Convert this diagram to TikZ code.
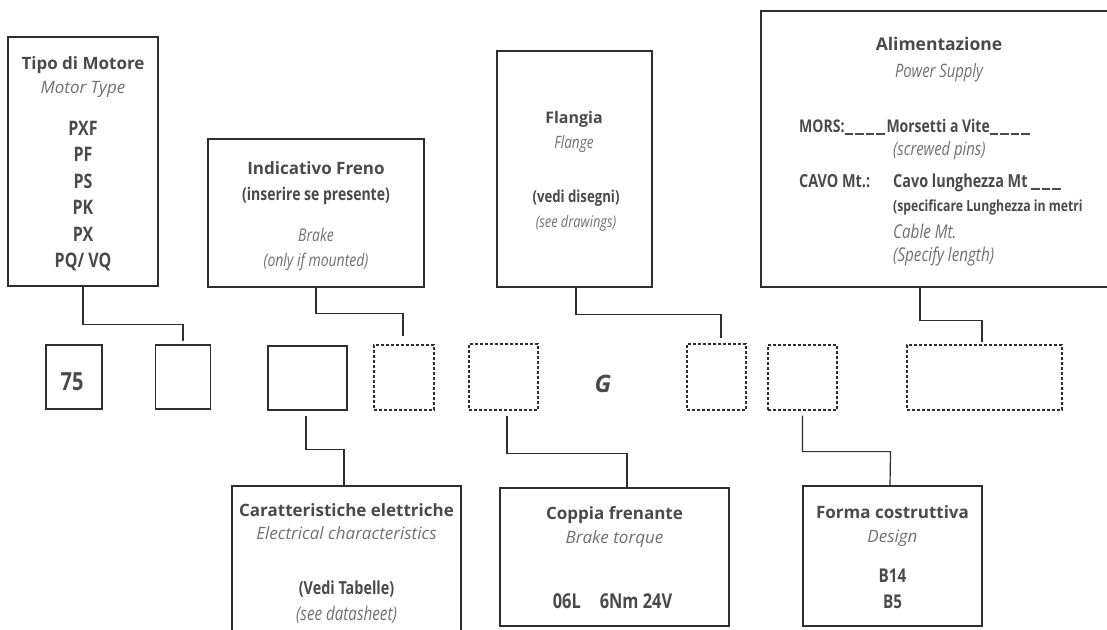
\documentclass[tikz,border=0pt]{standalone}
\usepackage{fontspec}
\setmainfont{Open Sans}
\newfontfamily\condf[FakeStretch=0.8]{Open Sans}
\definecolor{linec}{HTML}{2E2E2E}
\definecolor{txt}{HTML}{4A4A4A}
\definecolor{txti}{HTML}{707070}
\newcommand\usc{\rule[-2.5pt]{8.5pt}{1.1pt}\hspace{2pt}}
\newcommand\fs[1]{\fontsize{#1}{#1}\selectfont}
\tikzset{
  box/.style={draw=linec, line width=1.2pt, inner sep=0pt, rectangle, fill=white},
  dbox/.style={box, dash pattern=on 3pt off 2pt},
  conn/.style={draw=linec, line width=1.2pt},
  tb/.style={font=\fs{17}\bfseries, text=txt, anchor=base, inner sep=0pt},
  ti/.style={font=\fs{17}\itshape, text=txti, anchor=base, inner sep=0pt},
  cb/.style={font=\condf\fs{#1}\bfseries, text=txt, anchor=base, inner sep=0pt},
  ci/.style={font=\condf\fs{#1}\itshape, text=txti, anchor=base, inner sep=0pt},
}
\begin{document}
\begin{tikzpicture}[x=1pt,y=-1pt]
\useasboundingbox (0,0) rectangle (1107,629);
% top boxes
\node[box, minimum width=150pt, minimum height=249pt] (tipo) at (83,161.5) {};
\node[box, minimum width=216pt, minimum height=148pt] (freno) at (316,213) {};
\node[box, minimum width=155pt, minimum height=236pt] (flangia) at (574.5,169) {};
\node[box, minimum width=351pt, minimum height=276pt] (alim) at (936.5,149) {};
% code boxes
\node[box, minimum width=56pt, minimum height=64pt] (b75) at (74,377) {};
\node[box, minimum width=55pt, minimum height=64pt] (b2) at (183,377) {};
\node[box, minimum width=79pt, minimum height=64pt] (b3) at (307.5,378) {};
\node[dbox, minimum width=60pt, minimum height=65pt] (b4) at (404,377.5) {};
\node[dbox, minimum width=69pt, minimum height=66pt] (b5) at (503.5,377) {};
\node[dbox, minimum width=59pt, minimum height=66pt] (b6) at (716.5,377) {};
\node[dbox, minimum width=69pt, minimum height=65pt] (b7) at (802.5,377.5) {};
\node[dbox, minimum width=155pt, minimum height=65pt] (b8) at (984.5,377.5) {};
% bottom boxes
\node[box, minimum width=229pt, minimum height=159pt] (caratt) at (346.5,565.5) {};
\node[box, minimum width=229pt, minimum height=138pt] (coppia) at (614.5,557) {};
\node[box, minimum width=179pt, minimum height=140pt] (forma) at (892.5,556) {};
% connectors
\draw[conn] (tipo.south) -- ++(0,38) -| ([yshift=3pt]b2.north);
\draw[conn] (freno.south) -- ++(0,26) -| ([xshift=-1pt,yshift=8pt]b4.north);
\draw[conn] ([xshift=1.5pt]flangia.south) -- ++(0,27) -| ([xshift=4.5pt,yshift=5pt]b6.north);
\draw[conn] ([xshift=-16.5pt]alim.south) -- ++(0,33) -| ([xshift=-2.5pt,yshift=2pt]b8.north);
\draw[conn] ([xshift=-1.5pt,yshift=-5pt]b3.south) |- ++(38,34) -- ([xshift=-2.5pt]caratt.north);
\draw[conn] ([xshift=3.5pt,yshift=-5pt]b5.south) |- ++(120,38) -- ([xshift=12.5pt]coppia.north);
\draw[conn] ([yshift=-5pt]b7.south) |- ++(88,36) -- ([xshift=-2.5pt]forma.north);
% tipo texts
\node[tb] (t1) at (83,69) {Tipo di Motore};
\node[ti] (t2) at (83,93) {Motor Type};
\node[cb=20] (t3) at (83,135) {PXF};
\node[cb=20] (t4) at (83,161.5) {PF};
\node[cb=20] (t5) at (83,188) {PS};
\node[cb=20] (t6) at (83,214.5) {PK};
\node[cb=20] (t7) at (83,241) {PX};
\node[cb=20] (t8) at (83,267.5) {PQ/ VQ};
% freno texts
\node[tb] (f1) at (316,174) {Indicativo Freno};
\node[cb=17.5] (f2) at (316,200) {(inserire se presente)};
\node[ci=17.5] (f3) at (316,241) {Brake};
\node[ci=17.5] (f4) at (316,266) {(only if mounted)};
% flangia texts
\node[tb, font=\fs{16}\bfseries] (g1) at (574,123) {Flangia};
\node[ci=17] (g2) at (574,148) {Flange};
\node[cb=16.5] (g3) at (576,202) {(vedi disegni)};
\node[ci=16] (g4) at (576,227) {(see drawings)};
% alim texts
\node[tb, font=\fs{17.5}\bfseries] (a1) at (939,50) {Alimentazione};
\node[ci=18.5] (a2) at (939,77) {Power Supply};
\node[cb=17.5, anchor=base west] (a3) at (799,132) {MORS:\usc\usc\usc\usc Morsetti a Vite\usc\usc\usc\usc};
\node[ci=18.5, anchor=base west] (a4) at (893,155) {(screwed pins)};
\node[cb=18, anchor=base west] (a5) at (799,187) {CAVO Mt.:};
\node[cb=18, anchor=base west] (a6) at (893,187) {Cavo lunghezza Mt \usc\usc\usc};
\node[cb=15.3, anchor=base west] (a7) at (893,211) {(specificare Lunghezza in metri};
\node[ci=19, anchor=base west] (a8) at (893,238) {Cable Mt.};
\node[ci=19, anchor=base west] (a9) at (893,261) {(Specify length)};
% code texts
\node[cb=25] (n75) at (72,390) {75};
\node[font=\fs{24}\bfseries\itshape, text=txt, anchor=base, inner sep=0pt] (gG) at (603,392) {G};
% caratt texts
\node[tb] (c1) at (346.5,516) {Caratteristiche elettriche};
\node[ti] (c2) at (346.5,539) {Electrical characteristics};
\node[cb=18] (c3) at (346.5,594) {(Vedi Tabelle)};
\node[ci=19] (c4) at (346.5,620) {(see datasheet)};
% coppia texts
\node[tb] (p1) at (614.5,519) {Coppia frenante};
\node[ti] (p2) at (614.5,543) {Brake torque};
\node[cb=20.5] (p3) at (612.5,608) {06L\hspace{19pt}6Nm 24V};
% forma texts
\node[tb] (m1) at (892.5,518) {Forma costruttiva};
\node[ti] (m2) at (892.5,542) {Design};
\node[cb=19] (m3) at (892.5,582) {B14};
\node[cb=19] (m4) at (892.5,608) {B5};
\end{tikzpicture}
\end{document}
